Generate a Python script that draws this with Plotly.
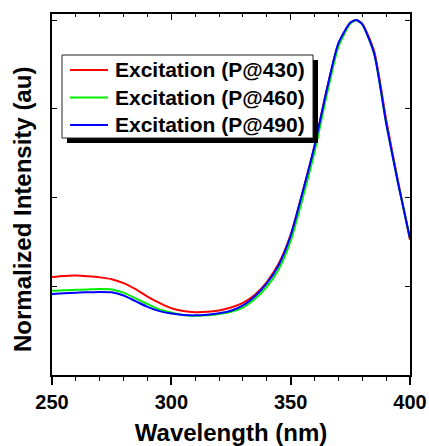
import plotly.graph_objects as go

wavelength = [250, 255, 260, 265, 270, 275, 280, 285, 290, 295, 300, 305, 310, 315, 320,
              325, 330, 335, 340, 345, 350, 355, 360, 365, 370, 375, 377.5, 380, 385, 390, 395, 400]

p430 = [0.276, 0.279, 0.280, 0.278, 0.275, 0.270, 0.259, 0.242, 0.221, 0.203, 0.188, 0.180, 0.177, 0.178, 0.182,
        0.190, 0.203, 0.226, 0.262, 0.314, 0.395, 0.515, 0.645, 0.800, 0.932, 0.992, 1.000, 0.990, 0.912, 0.720, 0.545, 0.380]

p460 = [0.237, 0.239, 0.240, 0.241, 0.242, 0.241, 0.232, 0.216, 0.200, 0.185, 0.176, 0.169, 0.167, 0.168, 0.172,
        0.178, 0.190, 0.214, 0.248, 0.298, 0.378, 0.497, 0.628, 0.785, 0.925, 0.990, 1.000, 0.988, 0.905, 0.710, 0.540, 0.385]

p490 = [0.228, 0.230, 0.232, 0.233, 0.234, 0.233, 0.224, 0.208, 0.192, 0.180, 0.173, 0.169, 0.168, 0.170, 0.174,
        0.181, 0.196, 0.222, 0.258, 0.310, 0.393, 0.515, 0.645, 0.800, 0.935, 0.993, 1.000, 0.988, 0.905, 0.710, 0.540, 0.385]

series_names = ["Excitation (P@430)", "Excitation (P@460)", "Excitation (P@490)"]
series_values = [p430, p460, p490]
series_colors = ["#ff0000", "#00ee00", "#0000ff"]

x_ticks = [250, 300, 350, 400]
y_ticks = [0, 0.25, 0.5, 0.75, 1.0]

FONT = "Liberation Sans, Arial, sans-serif"

# plot area in pixels (for converting the boxed legend placement to paper units)
PL, PR, PT, PB = 52, 410, 14, 375


def px(xp):
    return (xp - PL) / (PR - PL)


def py(yp):
    return (PB - yp) / (PB - PT)


fig = go.Figure()
for name, vals, col in zip(series_names, series_values, series_colors):
    fig.add_trace(go.Scatter(x=wavelength, y=vals, name=name, mode="lines", showlegend=False,
                             line=dict(color=col, width=2, shape="spline", smoothing=0.6)))

# dummy trace so the top axis is drawn
fig.add_trace(go.Scatter(x=[], y=[], xaxis="x2", showlegend=False, hoverinfo="skip"))

# boxed legend with drop shadow
shapes = [
    dict(type="rect", xref="paper", yref="paper", x0=px(67), x1=px(318), y0=py(143), y1=py(60),
         fillcolor="black", line=dict(width=0), layer="above"),
    dict(type="rect", xref="paper", yref="paper", x0=px(62), x1=px(313), y0=py(138), y1=py(55),
         fillcolor="white", line=dict(color="#222222", width=1), layer="above"),
]
annotations = []
row_y = [70, 97.5, 125]
for name, col, ry in zip(series_names, series_colors, row_y):
    shapes.append(dict(type="line", xref="paper", yref="paper", x0=px(70), x1=px(108),
                       y0=py(ry), y1=py(ry), line=dict(color=col, width=2), layer="above"))
    annotations.append(dict(text=name, xref="paper", yref="paper", x=px(113), y=py(ry),
                            xanchor="left", yanchor="middle", showarrow=False,
                            font=dict(size=21, family=FONT, color="black", weight="bold")))

annotations.append(dict(text="Normalized Intensity (au)", xref="paper", yref="paper",
                        x=px(23), y=py(210), textangle=-90,
                        showarrow=False, xanchor="center", yanchor="middle",
                        font=dict(size=24, family=FONT, color="black", weight="bold")))

fig.update_layout(
    width=429, height=446,
    margin=dict(l=PL, r=429 - PR, t=PT, b=446 - PB, autoexpand=False),
    paper_bgcolor="white", plot_bgcolor="white",
    font=dict(family=FONT, color="black"),
    showlegend=False,
    xaxis=dict(range=[250, 400], tickvals=x_ticks, ticktext=[str(v) for v in x_ticks],
               ticks="outside", ticklen=8, tickwidth=1.5, tickcolor="black",
               minor=dict(dtick=10, ticks="outside", ticklen=4, tickwidth=1.2, tickcolor="black"),
               showline=True, linecolor="black", linewidth=1.8, mirror=True,
               showgrid=False, zeroline=False, automargin=False,
               tickfont=dict(size=20, family=FONT, color="black", weight="bold"),
               title=dict(text="Wavelength (nm)", standoff=14,
                          font=dict(size=24, family=FONT, color="black", weight="bold"))),
    xaxis2=dict(range=[250, 400], overlaying="x", side="top", anchor="y",
                tickvals=x_ticks, ticks="inside", ticklen=6, tickwidth=1.2, tickcolor="black",
                minor=dict(dtick=10, ticks="inside", ticklen=3, tickwidth=1, tickcolor="black"),
                showticklabels=False, showgrid=False, zeroline=False, showline=False,
                automargin=False),
    yaxis=dict(range=[0, 1.017], tickvals=y_ticks, ticks="inside", ticklen=5, tickwidth=1.2,
               tickcolor="black", showticklabels=False, showline=True, linecolor="black",
               linewidth=1.8, mirror="ticks", showgrid=False, zeroline=False, automargin=False),
    shapes=shapes,
    annotations=annotations,
)

fig.write_html("out.html", config={"displayModeBar": False},
               post_script="document.body.style.margin='0';document.body.style.overflow='hidden';")
